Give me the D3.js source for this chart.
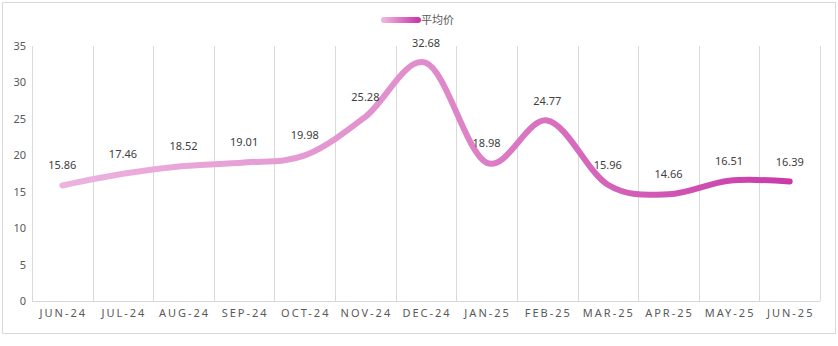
<!DOCTYPE html>
<html><head><meta charset="utf-8">
<script src="https://cdn.jsdelivr.net/npm/d3@7"></script>
<style>body{margin:0;background:#fff}svg{display:block}</style>
</head><body><svg id="c" width="838" height="346"></svg>
<script>
const categories = ["JUN-24","JUL-24","AUG-24","SEP-24","OCT-24","NOV-24","DEC-24","JAN-25","FEB-25","MAR-25","APR-25","MAY-25","JUN-25"];
const values = [15.86,17.46,18.52,19.01,19.98,25.28,32.68,18.98,24.77,15.96,14.66,16.51,16.39];
const yTicks = [0,5,10,15,20,25,30,35];
const seriesName = "平均价";

const svg = d3.select("#c");
const W = 838, H = 346;
const m = {l:32, r:18, t:46, b:45};
const x = d3.scaleBand().domain(categories).range([m.l, 820]).padding(0);
const y = d3.scaleLinear().domain([0,35]).range([301, 46]);
const font = "'Noto Sans', 'Open Sans', sans-serif";

svg.append("rect").attr("x",2.5).attr("y",2.5).attr("width",W-5).attr("height",331)
  .attr("fill","#fff").attr("stroke","#d9d9d9");

// vertical gridlines at category boundaries
const bounds = categories.map(c => x(c)).concat([x.range()[1]]);
svg.append("g").selectAll("line").data(bounds).join("line")
  .attr("x1",d=>Math.round(d)+0.5).attr("x2",d=>Math.round(d)+0.5)
  .attr("y1",y(35)).attr("y2",y(0)).attr("stroke","#d9d9d9").attr("stroke-width",1);
// baseline
svg.append("line").attr("x1",m.l).attr("x2",820).attr("y1",Math.round(y(0))+0.5).attr("y2",Math.round(y(0))+0.5)
  .attr("stroke","#d9d9d9");

// y axis labels
const ya = svg.append("g").attr("transform",`translate(26,0)`)
  .call(d3.axisLeft(y).tickValues(yTicks).tickSize(0).tickPadding(0));
ya.select(".domain").remove();
ya.selectAll("text").attr("font-family",font).attr("font-size",11).attr("fill","#595959");

// x axis labels
const xa = svg.append("g").attr("transform",`translate(0,${y(0)})`)
  .call(d3.axisBottom(x).tickSize(0).tickPadding(8));
xa.select(".domain").remove();
xa.selectAll("text").attr("font-family",font).attr("font-size",11).attr("fill","#595959")
  .attr("letter-spacing","2px").attr("dx","1px");

// gradient
const defs = svg.append("defs");
const g = defs.append("linearGradient").attr("id","lg").attr("gradientUnits","userSpaceOnUse")
  .attr("x1",x(categories[0])+x.bandwidth()/2).attr("x2",x(categories[12])+x.bandwidth()/2).attr("y1",0).attr("y2",0);
g.append("stop").attr("offset","0%").attr("stop-color","#ecb3df");
g.append("stop").attr("offset","50%").attr("stop-color","#e08ccb");
g.append("stop").attr("offset","100%").attr("stop-color","#c93aa8");
const g2 = defs.append("linearGradient").attr("id","lg2").attr("gradientUnits","userSpaceOnUse")
  .attr("x1",384).attr("x2",418).attr("y1",0).attr("y2",0);
g2.append("stop").attr("offset","0%").attr("stop-color","#ecb3df");
g2.append("stop").attr("offset","100%").attr("stop-color","#c93aa8");

const line = d3.line().x((d,i)=>x(categories[i])+x.bandwidth()/2).y(d=>y(d))
  .curve(d3.curveCardinal.tension(0));
svg.append("path").datum(values).attr("d",line).attr("fill","none")
  .attr("stroke","url(#lg)").attr("stroke-width",6).attr("stroke-linecap","round").attr("stroke-linejoin","round");

// data labels
svg.append("g").selectAll("text").data(values).join("text")
  .attr("x",(d,i)=>x(categories[i])+x.bandwidth()/2)
  .attr("y",d=>y(d)-16)
  .attr("text-anchor","middle").attr("font-family",font).attr("font-size",11).attr("fill","#404040")
  .text(d=>d.toFixed(2));

// legend
svg.append("line").attr("x1",384).attr("x2",418).attr("y1",20).attr("y2",20)
  .attr("stroke","url(#lg2)").attr("stroke-width",6).attr("stroke-linecap","round");
svg.append("text").attr("x",421).attr("y",24).attr("font-family","'Noto Sans CJK SC', sans-serif")
  .attr("font-size",11).attr("fill","#595959").text(seriesName);
</script></body></html>
